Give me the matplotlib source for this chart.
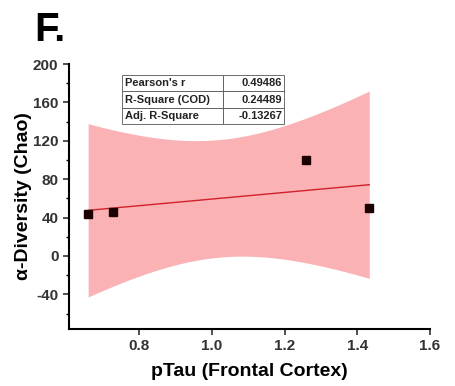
import numpy as np
import matplotlib
matplotlib.use("Agg")
import matplotlib.pyplot as plt
from matplotlib.ticker import MultipleLocator

plt.rcParams['font.family'] = ['Liberation Sans', 'DejaVu Sans']
plt.rcParams['axes.unicode_minus'] = False

# data
ptau = np.array([0.66, 0.728, 1.26, 1.433])
chao = np.array([44, 46, 100, 50])

stat_names = ["Pearson's r", "R-Square (COD)", "Adj. R-Square"]
stat_values = ["0.49486", "0.24489", "-0.13267"]

t_crit = 4.303  # t(0.975, df=2)

# linear fit + 95% confidence band of the mean
slope, icpt = np.polyfit(ptau, chao, 1)
xs = np.linspace(ptau.min(), ptau.max(), 100)
fit = slope * xs + icpt
n = len(ptau)
resid = chao - (slope * ptau + icpt)
s = np.sqrt(np.sum(resid ** 2) / (n - 2))
sxx = np.sum((ptau - ptau.mean()) ** 2)
half = t_crit * s * np.sqrt(1 / n + (xs - ptau.mean()) ** 2 / sxx)

fig = plt.figure(figsize=(4.56, 3.86), dpi=100)
ax = fig.add_axes([0.151, 0.148, 0.792, 0.686])

ax.fill_between(xs, fit - half, fit + half, color='#FAB2B4', lw=0, zorder=1)
ax.plot(xs, fit, color='#D0202A', lw=1.0, zorder=2)
ax.plot(ptau, chao, 's', color='#1a0000', ms=5.5, zorder=3)

ax.set_xlim(0.607, 1.6)
ax.set_ylim(-76, 200)
ax.yaxis.set_major_locator(MultipleLocator(40))
ax.yaxis.set_minor_locator(MultipleLocator(20))
ax.set_xticks([0.8, 1.0, 1.2, 1.4, 1.6])
ax.set_xticklabels(['0.8', '1.0', '1.2', '1.4', '1.6'])

for side in ['top', 'right']:
    ax.spines[side].set_visible(False)
for side in ['left', 'bottom']:
    ax.spines[side].set_linewidth(1.5)
ax.tick_params(which='major', length=4, width=1.2, labelsize=11, colors='#333333', labelcolor='#333333')
ax.tick_params(which='minor', length=2, width=1.0)
for lab in ax.get_xticklabels() + ax.get_yticklabels():
    lab.set_fontweight('bold')

ax.set_xlabel('pTau (Frontal Cortex)', fontsize=14, fontweight='bold', labelpad=7)
ax.set_ylabel('α-Diversity (Chao)', fontsize=14, fontweight='bold', labelpad=1)

tbl = ax.table(cellText=[[a, b] for a, b in zip(stat_names, stat_values)],
               bbox=[0.147, 0.774, 0.449, 0.184], colWidths=[0.624, 0.376],
               cellLoc='left')
tbl.auto_set_font_size(False)
tbl.set_fontsize(8)
for (r, c), cell in tbl.get_celld().items():
    cell.set_linewidth(0.6)
    cell.set_edgecolor('#555555')
    cell.set_facecolor('white')
    cell.get_text().set_fontweight('bold')
    cell.get_text().set_color('#222222')
    if c == 1:
        cell.get_text().set_ha('right')
        cell._loc = 'right'
    cell.PAD = 0.03

fig.text(0.075, 0.893, 'F.', fontsize=29, fontweight='bold')

fig.savefig('out.png', dpi=100)
